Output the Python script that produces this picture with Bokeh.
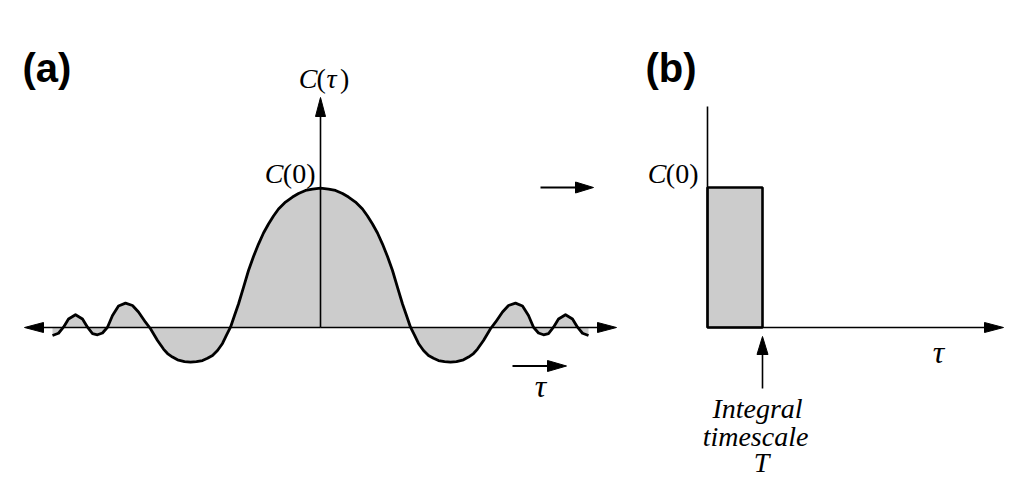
import math
from bokeh.plotting import figure
from bokeh.layouts import row
from bokeh.models import Range1d
from bokeh.core.properties import value
from bokeh.embed import file_html
from bokeh.resources import INLINE

# ---------------- data ----------------
# Panel (a): autocorrelation C(tau), normalised so that C(0) ~ 1
tau_a = [-26.8, -26.2, -25.7, -25.2, -24.5, -23.8, -23.3, -22.8, -22.3, -21.8,
         -21.3, -20.8, -20.2, -19.5, -18.8, -18.2, -17.5, -17.0, -16.3, -15.7,
         -15.3, -14.8, -14.3, -13.6, -13.0, -12.4, -11.8, -11.3, -10.8, -10.3,
         -9.8, -9.4, -9.0, -8.6, -8.2, -7.7, -7.2, -6.7, -6.2, -5.7,
         -5.2, -4.7, -4.2, -3.5, -2.8, -2.2, -1.5, -0.8, 0.0,
         0.8, 1.5, 2.2, 2.8, 3.5, 4.2, 4.7, 5.2, 5.7, 6.2,
         6.7, 7.2, 7.7, 8.2, 8.6, 9.0, 9.4, 9.8, 10.3, 10.8,
         11.3, 11.8, 12.4, 13.0, 13.6, 14.3, 14.8, 15.3, 15.7, 16.3,
         17.0, 17.5, 18.2, 18.8, 19.5, 20.2, 20.8, 21.3, 21.8, 22.3,
         22.8, 23.3, 23.8, 24.5, 25.2, 25.7, 26.2, 26.8]
c_a = [-0.057, -0.041, 0.002, 0.061, 0.091, 0.061, 0.002, -0.043, -0.052, -0.039,
       0.002, 0.086, 0.154, 0.174, 0.157, 0.111, 0.038, -0.009, -0.093, -0.154,
       -0.186, -0.211, -0.231, -0.244, -0.248, -0.244, -0.236, -0.220, -0.200, -0.164,
       -0.114, -0.054, 0.002, 0.086, 0.168, 0.286, 0.407, 0.507, 0.596, 0.675,
       0.739, 0.796, 0.846, 0.896, 0.932, 0.957, 0.979, 0.989, 0.995,
       0.989, 0.979, 0.957, 0.932, 0.896, 0.846, 0.796, 0.739, 0.675, 0.596,
       0.507, 0.407, 0.286, 0.168, 0.086, 0.002, -0.054, -0.114, -0.164, -0.200,
       -0.220, -0.236, -0.244, -0.248, -0.244, -0.231, -0.211, -0.186, -0.154, -0.093,
       -0.009, 0.038, 0.111, 0.157, 0.174, 0.154, 0.086, 0.002, -0.039, -0.052,
       -0.043, 0.002, 0.061, 0.091, 0.061, 0.002, -0.041, -0.057]

# Panel (b): equivalent rectangle of height C(0) and width T
c0_b = [1.0]
T_b = [5.5]

labels_a = ["C", "(", "\u03c4", ")", "C", "(0)", "\u03c4"]
labels_b = ["C", "(0)", "\u03c4"]
note_b = ["Integral", "timescale", "T"]
panel_tags = ["(a)", "(b)"]

# ---------------- styling / geometry ----------------
SX = 10.0    # px per tau unit
SY = 140.0   # px per C unit
H = 484
GREY = "#cccccc"
SERIF = value("Liberation Serif")
FS = "28px"


def make_fig(w, x0, x1):
    p = figure(width=w, height=H, output_backend="svg", toolbar_location=None,
               x_range=Range1d(x0, x1), y_range=Range1d(-157 / SY, 327 / SY),
               x_axis_location=None, y_axis_location=None, min_border=0,
               background_fill_color="white", border_fill_color="white")
    p.grid.visible = False
    p.outline_line_color = None
    return p


def arrow(p, x0, y0, x1, y1, lw, L=19.0, W=5.0, head=True):
    dxp, dyp = (x1 - x0) * SX, (y1 - y0) * SY
    n = math.hypot(dxp, dyp)
    ux, uy = dxp / n, dyp / n
    if not head:
        p.line([x0, x1], [y0, y1], line_color="black", line_width=lw)
        return
    bx, by = x1 - L * ux / SX, y1 - L * uy / SY
    ex, ey = x1 - (L - 3) * ux / SX, y1 - (L - 3) * uy / SY
    p.line([x0, ex], [y0, ey], line_color="black", line_width=lw)
    px, py = -uy, ux
    xs = [x1, bx + W * px / SX, bx - W * px / SX]
    ys = [y1, by + W * py / SY, by - W * py / SY]
    p.patch(xs, ys, fill_color="black", line_color="black", line_width=1)


def label(p, x, y, txt, italic=False, align="left", size=FS):
    p.text(x=[x], y=[y], text=[txt], text_font=SERIF,
           text_font_style="italic" if italic else "normal",
           text_font_size=size, text_align=align, text_baseline="middle")


# ---------------- panel (a) ----------------
pa = make_fig(620, -32.0, 30.0)
pa.varea(x=tau_a, y1=[0.0] * len(tau_a), y2=c_a, fill_color=GREY)
arrow(pa, 0.0, 0.0, 29.6, 0.0, 1.6)
arrow(pa, 0.0, 0.0, -29.6, 0.0, 1.6)
arrow(pa, 0.0, 0.0, 0.0, 230 / SY, 1.6)
pa.line(tau_a, c_a, line_color="black", line_width=2.8, line_join="round")
# transformation arrow and tau-direction arrow
arrow(pa, 22.0, c0_b[0], 27.3, c0_b[0], 2.0, L=18, W=5.5)
arrow(pa, 19.2, -38.5 / SY, 24.6, -38.5 / SY, 2.0, L=19, W=5.5)

label(pa, -0.3, 249 / SY, labels_a[0], italic=True, align="right")
label(pa, -0.4, 249 / SY, labels_a[1], align="left")
label(pa, 0.6, 249 / SY, labels_a[2], italic=True, align="left")
label(pa, 1.95, 249 / SY, labels_a[3], align="left")
label(pa, -3.7, 154 / SY, labels_a[4], italic=True, align="right")
label(pa, -0.5, 154 / SY, labels_a[5], align="right")
label(pa, 22.0, -58 / SY, labels_a[6], italic=True, align="center", size="32px")
pa.text(x=[-29.8], y=[260 / SY], text=[panel_tags[0]], text_font=value("Liberation Sans"),
        text_font_style="bold", text_font_size="40px", text_align="left",
        text_baseline="middle")

# ---------------- panel (b) ----------------
pb = make_fig(396, -8.7, 30.9)
pb.quad(left=[0.0], right=T_b, bottom=[0.0], top=c0_b, fill_color=GREY,
        line_color="black", line_width=2.6)
arrow(pb, 0.0, 0.0, 0.0, 221 / SY, 1.6, head=False)
arrow(pb, 0.0, 0.0, 29.6, 0.0, 1.6)
arrow(pb, T_b[0], -61 / SY, T_b[0], -9 / SY, 1.6, L=18, W=5.5)

label(pb, -4.1, 154 / SY, labels_b[0], italic=True, align="right")
label(pb, -0.9, 154 / SY, labels_b[1], align="right")
label(pb, 23.1, -24 / SY, labels_b[2], italic=True, align="center", size="32px")
for txt, x, y in zip(note_b, [5.0, 4.8, 5.4], [-81 / SY, -109 / SY, -135 / SY]):
    label(pb, x, y, txt, italic=True, align="center")
pb.text(x=[-6.2], y=[260 / SY], text=[panel_tags[1]], text_font=value("Liberation Sans"),
        text_font_style="bold", text_font_size="40px", text_align="left",
        text_baseline="middle")

layout = row(pa, pb, spacing=0)
open("out.html", "w").write(file_html(layout, INLINE))
